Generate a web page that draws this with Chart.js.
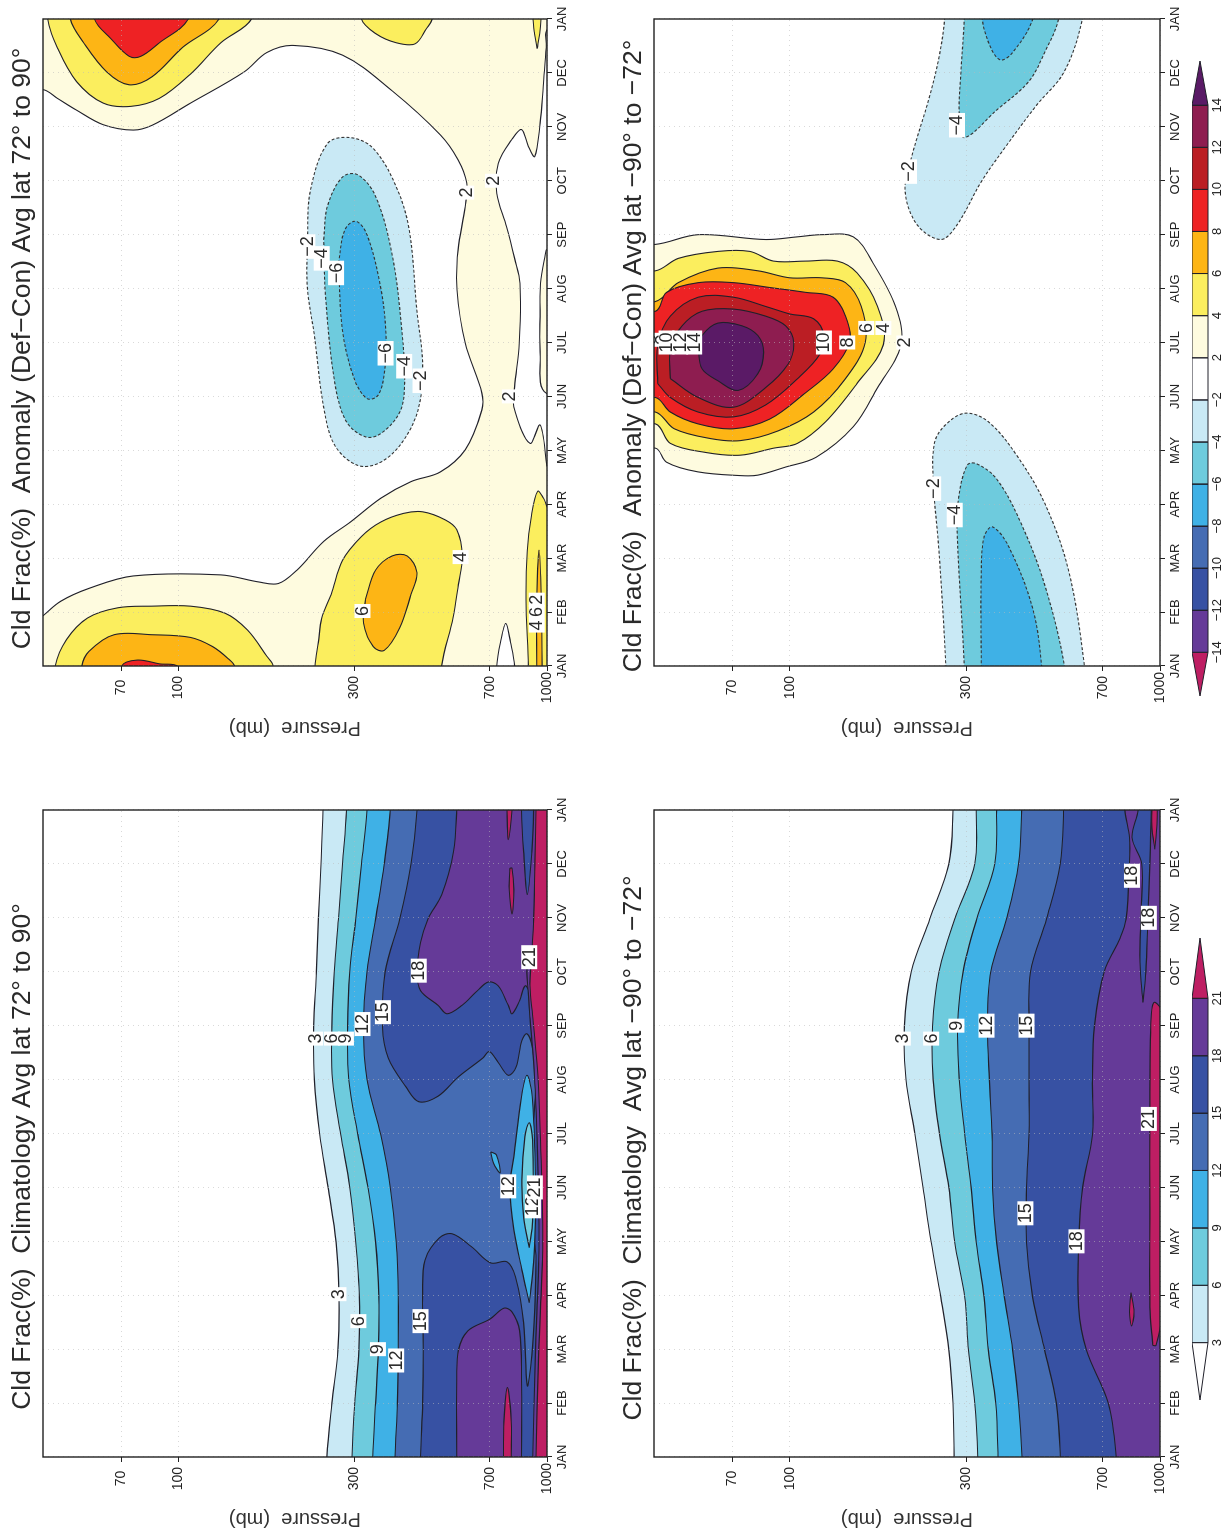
<!DOCTYPE html>
<html><head><meta charset="utf-8"><style>
html,body{margin:0;padding:0;background:#fff;overflow:hidden;width:1223px;height:1532px}
#page{position:absolute;left:0;top:0;width:1532px;height:1223px;transform-origin:0 0;transform:translateY(1532px) rotate(-90deg)}
canvas{position:absolute}
</style></head><body><div id="page"></div>
<script src="https://cdn.jsdelivr.net/npm/chart.js@4"></script>
<script>
const monthLabels=['JAN','FEB','MAR','APR','MAY','JUN','JUL','AUG','SEP','OCT','NOV','DEC','JAN'];
const pressureTicks=[70,100,300,700,1000];
const climLevels=[3,6,9,12,15,18,21];
const anomLevels=[-14,-12,-10,-8,-6,-4,-2,2,4,6,8,10,12,14];
const C={lb:'#c9e9f5',teal:'#6ecbdd',sky:'#3fb1e6',med:'#456cb3',dark:'#3751a3',pur:'#653a98',crim:'#be1e63',
 white:'#ffffff',cream:'#fefbdf',yel:'#fbee5e',org:'#fdb515',red:'#ee2224',dred:'#bb1e24',mar:'#8e1d50',dpur:'#5a1a66'};
const climColors=[C.white,C.lb,C.teal,C.sky,C.med,C.dark,C.pur,C.crim];
const anomColors=[C.crim,C.pur,C.dark,C.med,C.sky,C.teal,C.lb,C.white,C.cream,C.yel,C.org,C.red,C.dred,C.mar,C.dpur];

/* Climatology 72..90 */
const stopsC=[0,1,1.98,2.96,3.98,5,5.98,7,7.98,9,9.98,11,12];
const c3=[253,261,271,273,268,255,242,234,233,237,240,244,247];
const c6=[296,301,309,310,303,292,276,262,261,265,272,279,286];
const c9=[337,343,349,350,343,327,307,290,288,292,303,314,325];
const c12=[387,393,395,395,390,376,354,325,318,325,343,362,376];
const c15Right=[[12.6,444],[12,444],[11,428],[9.98,399],[9,364],[7.98,358],[7.4,371],[6.87,414],[6.59,449],[6.69,506],[7.05,575],[7.4,670],[7.52,698],[7.32,737],[7.08,785],[7.23,824],[7.73,855],[7.85,882],[7.61,912],[7,932],[4.56,938],[4.56,1500],[12.6,1500]];
const c15Left=[[-0.6,454],[0,454],[1,460],[1.98,462],[2.99,460],[3.65,467],[4.06,510],[4.14,553],[3.9,624],[3.6,704],[3.62,779],[3.34,821],[2.49,864],[1.32,884],[1.89,910],[2.78,927],[3.67,934],[4.56,938],[4.56,1500],[-0.6,1500]];
const c18Right=[[12.6,569],[12,569],[11.23,558],[10.43,518],[9.98,476],[9.54,454],[9,444],[8.65,454],[8.38,506],[8.22,536],[8.38,589],[8.65,648],[8.81,693],[8.74,737],[8.38,785],[8.22,804],[8.47,843],[8.74,873],[8.6,912],[8.6,1500],[12.6,1500]];
const c18Left=[[-0.6,569],[0,569],[1.45,569],[1.98,575],[2.34,610],[2.56,701],[2.76,764],[2.69,804],[2.34,843],[1.45,853],[0,853],[-0.6,853]];
const c15LensTop=[[12.6,853],[12,853],[11.23,864],[10.43,884],[11.23,910],[12,920],[12.6,920]];
const c21LensA=[[12.6,779],[12,779],[11.45,785],[12,804],[12.6,804]];
const c21LensB=[[10.92,793],[10.52,790],[10.07,804],[10.52,813],[10.92,804]];
const c21LensC=[[-0.6,762],[0,762],[0.65,764],[1.29,781],[0.65,800],[0,800],[-0.6,800]];
const c12Lens=[[2.86,895],[3.47,855],[4.21,813],[5.01,793],[5.57,813],[6.68,853],[7.08,882],[6.68,912],[4.83,932],[3.61,920]];
const c9Lens=[[3.88,895],[4.45,864],[5.14,855],[5.94,871],[6.2,895],[5.88,914],[4.38,914]];
const c12Blob=[[5.66,704],[5.6,730],[5.27,746],[5.45,716]];
const c18Bottom=[[0,915],[1.89,930],[3.67,950],[4.56,950],[5.9,940],[7.05,925],[8.12,900],[8.6,890]];
const c21Bottom=[[0,934],[1.89,949],[3.67,972],[4.56,972],[5.9,960],[7.05,945],[8.12,916],[8.74,899],[9.2,906],[9.98,920],[11,927],[12,934]];
const cLabels=[['3',7.76,235],['6',7.76,261],['9',7.76,285],['12',8.03,316],['15',8.25,359],['18',9.02,449],['21',9.27,895],['3',3.02,272],['6',2.52,308],['9',2,348],['12',1.79,390],['15',2.52,454],['12',5.02,785],['12',4.65,916],['21',5,927]];

/* Climatology -90..-72 */
const d3=[278,276,269,256,241,229,218,206,204,213,239,269,276];
const d6=[322,316,304,297,279,269,254,244,243,253,279,316,319];
const d9=[365,360,344,335,319,309,297,287,284,294,320,358,362];
const d12=[424,415,400,380,362,353,352,346,342,349,385,415,423];
const d15=[538,525,488,453,436,436,443,443,443,447,494,538,549];
const d18=[[0,762],[1,725],[1.98,633],[2.78,603],[3.98,603],[5,618],[5.98,657],[7,657],[7.98,665],[9,707],[9.63,781],[9.98,810],[11,827],[11.49,827],[12,804]];
const dLens15=[[8.43,899],[9.18,883],[9.98,887],[11,893],[11.49,840],[12,873],[12.6,873],[12.6,947],[12,947],[11,939],[9.98,927],[9,916]];
const dLens21=[[2.07,956],[2.78,939],[4.56,939],[6.34,939],[7.98,944],[8.43,963],[8.2,1020],[5.45,1020],[2.78,1020],[2.07,975]];
const dBlob21=[[3.05,835],[2.69,827],[2.43,838],[2.69,851]];
const dTop21=[[11.27,968],[11.67,951],[12,951],[12.6,951],[12.6,983],[12,983],[11.67,980]];
const dLabels=[['3',7.76,202],['6',7.76,241],['9',8,282],['12',8,340],['15',8,436],['18',4,595],['15',4.52,433],['21',6.27,933],['18',10,933],['18',10.78,840]];

/* Anomaly 72..90 */
const aWhiteUpper=[[0.93,43],[1.2,48],[1.44,57.3],[1.67,75.5],[1.69,130.5],[1.56,165],[1.53,187],[1.78,210],[2.31,248],[2.67,293],[3.11,354],[3.42,428],[3.6,514],[4.01,600],[4.75,666],[5.06,666],[5.99,600],[6.98,570],[7.72,574],[8.52,600],[8.96,606],[9.39,574],[9.85,514],[10.67,380],[11.33,279],[11.51,205],[11.38,174],[11.02,151],[10.44,108],[10.03,85],[9.94,75.5],[10.04,62.6],[10.31,53],[10.53,47],[10.69,43],[10.69,30],[0.93,30]];
const aWhiteLower=[[3.7,1000],[4.47,958],[4.13,899],[4.81,813],[5.18,817],[5.99,841],[7.1,845],[7.56,817],[8.15,777],[8.77,731],[9.32,738],[9.76,802],[9.95,853],[9.64,890],[9.45,927],[10.07,958],[10.75,977],[11.47,995],[11.82,1010],[11.82,1500],[3.7,1500]];
const aCreamLens=[[7.72,995],[7.1,960],[6.58,958],[5.83,958],[5.06,995],[5.06,1500],[7.72,1500]];
const aWhiteLens=[[-0.6,731],[0,731],[0.44,748],[0.79,773],[0.44,796],[0,817],[-0.6,817]];
const aYelBottom=[[-0.6,890],[0,890],[1.24,877],[2.13,884],[2.76,906],[3.24,943],[3.11,979],[2.9,1020],[2.9,1500],[-0.6,1500]];
const aOrgBottom=[[-0.6,938],[0,938],[1.24,938],[2.15,951],[1.24,965],[0,970],[-0.6,970]];
const aYelCorner=[[11.45,940],[11.73,925],[12,916],[12.6,916],[12.6,963],[12,963],[11.73,956]];
const aYelMid=[[-0.6,235],[0,235],[0.44,240],[0.89,245],[1.33,260],[1.96,279],[2.4,314],[2.67,354],[2.83,408],[2.86,460],[2.71,530],[2.53,569],[2.04,589],[1.51,575],[0.89,556],[0,518],[-0.6,518]];
const aOrgMid=[[1.24,322],[1.78,343],[2.04,380],[2.04,418],[1.73,444],[1.33,428],[0.71,399],[0.29,362],[0.36,338],[0.8,318]];
const aYelArch=[[-0.6,46.4],[0,46.4],[0.49,49.8],[0.89,56.8],[1.08,68.6],[1.11,85],[1.11,108],[0.98,134],[0.67,154],[0.18,174],[0,181],[-0.6,181]];
const aOrgArch=[[-0.6,54.8],[0,54.8],[0.27,57.3],[0.58,67],[0.58,85],[0.53,108],[0.36,124],[0.13,137],[0,142],[-0.6,142]];
const aRedArch=[[-0.6,70],[0,70.3],[0.11,77.5],[0.04,89],[-0.02,100],[-0.6,100]];
const aYelEnd=[[12.6,44.3],[12,44.3],[11.47,47],[10.84,53],[10.44,62.6],[10.38,74.5],[10.53,89],[10.98,108],[11.56,130.5],[12,158],[12.6,158]];
const aOrgEnd=[[12.6,51],[12,51],[11.56,55.4],[11.02,64],[10.78,73.6],[10.93,85],[11.47,102.7],[12,129],[12.6,129]];
const aRedEnd=[[12.6,59.3],[12,59.3],[11.64,65.6],[11.31,73.6],[11.31,79.3],[11.56,89],[12,106.5],[12.6,106.5]];
const aYelLow=[[12.6,314],[12,314],[11.73,343],[11.56,390],[11.54,439],[11.82,471],[12,488],[12.6,488]];
const aNeg2=[[7.91,224],[8.8,228],[9.69,254],[9.8,293],[9.6,338],[8.89,390],[8.09,423],[6.58,444],[5.6,460],[4.8,449],[4.18,408],[3.78,354],[3.72,307],[4.09,266],[4.8,248],[6.13,234],[7.02,224]];
const aNeg4=[[7.91,248],[8.53,254],[9.07,279],[9.11,307],[8.71,343],[7.64,380],[6.31,403],[5.24,411],[4.71,399],[4.31,354],[4.25,322],[4.53,286],[5.24,266],[6.84,251]];
const aNeg6=[[7.47,272],[8.09,283],[8.25,303],[8,325],[7.02,354],[6.13,366],[5.42,362],[5.02,348],[4.96,325],[5.33,300],[6.22,279]];
const aLabels=[['\u22122',7.78,224],['\u22124',7.56,245],['\u22126',7.29,268],['\u22126',5.8,365],['\u22124',5.56,410],['\u22122',5.29,454],['2',8.78,604],['2',9,714],['2',5,793],['4',2.02,583],['6',1.02,316],['2',1.23,938],['6',1,938],['4',0.75,938]];

/* Anomaly -90..-72 */
const b2=[[7.82,30],[4.04,30],[4.04,43.4],[3.78,46.5],[3.6,56.6],[3.53,74.3],[3.54,82],[3.69,97.5],[3.87,117.7],[4.44,148.5],[5.16,172.6],[5.96,200],[6.67,193],[7.47,168],[7.96,148.5],[8,122],[7.96,105],[7.91,86],[8,56.6],[7.82,43.4]];
const b4=[[7.33,30],[4.49,30],[4.49,43.4],[4.13,47.6],[3.96,59.4],[3.91,73.5],[4.04,90.4],[4.13,105],[4.53,125],[5.24,152],[5.96,179],[6.67,172.6],[7.29,152],[7.51,134.5],[7.51,110.5],[7.51,90.4],[7.69,78],[7.69,64],[7.56,50],[7.33,43.4]];
const b6=[[6.76,30],[4.71,30],[4.71,43.4],[4.4,48.8],[4.22,60.9],[4.18,73.5],[4.36,93],[4.71,116],[5.33,141.5],[6,160],[6.67,156],[7.11,141.5],[7.2,122],[7.2,100],[7.33,82],[7.38,64],[7.11,50],[6.76,43.4]];
const b8=[[6.58,30],[4.98,30],[4.98,43.4],[4.71,47.6],[4.49,56.6],[4.4,70.5],[4.58,88.3],[5.07,110.5],[5.51,131],[6,145],[6.4,143],[6.84,131],[6.93,110.5],[7.02,88.3],[7.11,70.5],[7.11,56.6],[6.93,46.5],[6.58,43.4]];
const b10=[[5.24,44],[4.98,47.6],[4.71,56.6],[4.62,70.5],[4.84,86],[5.33,105],[5.78,120.6],[6.13,123.7],[6.44,116],[6.53,100],[6.67,86],[6.84,70.5],[6.84,56.6],[6.49,47.6],[5.96,44]];
const b12=[[5.33,47.6],[4.98,56.6],[4.8,70.5],[5.16,86],[5.6,99],[6,102.5],[6.31,97.5],[6.49,86],[6.62,70.5],[6.58,58],[6.31,51.2],[5.87,47.6]];
const b14=[[5.87,56.6],[5.51,58],[5.29,64],[5.11,72.5],[5.42,82],[5.82,85],[6.13,82],[6.31,74.3],[6.36,64],[6.13,58]];
const bNeg2L=[[-0.6,264],[0,264],[2.13,253],[3.47,244],[4.18,247],[4.53,269],[4.69,300],[4.53,344],[3.91,410],[3.02,488],[1.78,566],[0,625],[-0.6,625]];
const bNeg4L=[[-0.6,296],[0,296],[2.58,283],[3.2,287],[3.73,302],[3.75,320],[3.47,362],[2.67,420],[1.51,488],[0,552],[-0.6,552]];
const bNeg6L=[[-0.6,329],[0,329],[1.69,329],[2.4,335],[2.58,353],[2.22,390],[1.07,453],[0,479],[-0.6,479]];
const bNeg2R=[[12.6,262],[12,262],[11.29,253],[10.58,239],[9.42,213],[8.8,205],[8.18,221],[7.91,256],[8.18,283],[8.98,329],[9.6,380],[10.4,464],[11.02,551],[12,617],[12.6,617]];
const bNeg4R=[[12.6,296],[12,296],[11.02,290],[10.22,287],[9.8,296],[10.31,362],[10.84,442],[11.38,488],[12,532],[12.6,532]];
const bNeg6R=[[12.6,331],[12,331],[11.47,349],[11.24,371],[11.38,400],[12,453],[12.6,453]];
const bLabels=[['8',6.05,43.9],['10',6,46.5],['12',6,50.6],['14',6,55.2],['10',6,123.7],['8',6,143],['6',6.27,161],['4',6.27,179],['2',6,204],['\u22122',9.17,210],['\u22124',10.03,283],['\u22122',3.29,244],['\u22124',2.8,279]];
const cream=[[-1,30],[13,30],[13,1500],[-1,1500]];

const zip=(xs,ys)=>xs.map((x,i)=>[x,ys[i]]);
const below=l=>[[l[0][0]-0.6,l[0][1]],...l,[l[l.length-1][0]+0.6,l[l.length-1][1]],[13.5,1500],[-1.5,1500]];
const FONT='"Liberation Sans",Arial,sans-serif';
const INK='#20202a';
function ds(points,color,o={}){
  const pts=[...points,points[0]].map(([x,y])=>({x,y}));
  return {data:pts,showLine:true,fill:'shape',backgroundColor:color,borderColor:o.noLine?'rgba(0,0,0,0)':(o.dash?'#333':INK),capBezierPoints:false,
    borderWidth:o.noLine?0:(o.w||1.1),borderDash:o.dash?[3,2]:[],tension:o.t===undefined?0.35:o.t,pointRadius:0,pointHoverRadius:0};
}
const D={dash:true};
const layersC=[ds(below(zip(stopsC,c3)),C.lb),ds(below(zip(stopsC,c6)),C.teal),ds(below(zip(stopsC,c9)),C.sky),ds(below(zip(stopsC,c12)),C.med),
 ds(c15Left,C.dark),ds(c15Right,C.dark),ds(c18Left,C.pur),ds(c18Right,C.pur),ds(c15LensTop,C.dark),ds(c21LensA,C.crim),ds(c21LensB,C.crim),ds(c21LensC,C.crim),
 ds(c12Lens,C.sky),ds(c9Lens,C.teal),ds(c12Blob,C.sky),ds(below(c18Bottom),C.pur),ds(below(c21Bottom),C.crim)];
const layersD=[ds(below(zip(stopsC,d3)),C.lb),ds(below(zip(stopsC,d6)),C.teal),ds(below(zip(stopsC,d9)),C.sky),ds(below(zip(stopsC,d12)),C.med),ds(below(zip(stopsC,d15)),C.dark),
 ds(below(d18),C.pur),ds(dLens15,C.dark),ds(dLens21,C.crim),ds(dBlob21,C.crim),ds(dTop21,C.crim)];
const layersA=[ds(cream,C.cream,{noLine:true,t:0}),ds(aWhiteUpper,C.white),ds(aWhiteLower,C.white),ds(aCreamLens,C.cream),ds(aWhiteLens,C.white),
 ds(aYelBottom,C.yel),ds(aOrgBottom,C.org),ds(aYelCorner,C.yel),ds(aYelMid,C.yel),ds(aOrgMid,C.org),ds(aYelArch,C.yel),ds(aOrgArch,C.org),ds(aRedArch,C.red),
 ds(aYelEnd,C.yel),ds(aOrgEnd,C.org),ds(aRedEnd,C.red),ds(aYelLow,C.yel),ds(aNeg2,C.lb,D),ds(aNeg4,C.teal,D),ds(aNeg6,C.sky,D)];
const layersB=[ds(b2,C.cream),ds(b4,C.yel),ds(b6,C.org),ds(b8,C.red),ds(b10,C.dred),ds(b12,C.mar),ds(b14,C.dpur),
 ds(bNeg2L,C.lb,D),ds(bNeg4L,C.teal,D),ds(bNeg6L,C.sky,D),ds(bNeg2R,C.lb,D),ds(bNeg4R,C.teal,D),ds(bNeg6R,C.sky,D)];

const host=document.getElementById('page');
function mk(left,top,w,h){const c=document.createElement('canvas');c.width=w;c.height=h;c.style.left=left+'px';c.style.top=top+'px';host.appendChild(c);return c;}

function panel(title,plotL,plotT,plotW,plotH,titleShift,layers,labels){
  const L=90,T=45,B=28,R=25;
  const cv=mk(plotL-L,plotT-T,L+plotW+R,T+plotH+B);
  const overlay={id:'overlay',
   afterLayout(ch){ch.titleBlock.left+=titleShift;ch.titleBlock.right+=titleShift;},
   afterDraw(ch){
    const c=ch.ctx,a=ch.chartArea,x=ch.scales.x,y=ch.scales.y;
    c.save();
    c.beginPath();c.rect(a.left,a.top,a.width,a.height);c.clip();
    c.font='18px '+FONT;c.textAlign='center';c.textBaseline='middle';
    labels.forEach(([t,m,p])=>{
      const px=x.getPixelForValue(m),py=y.getPixelForValue(p),w=c.measureText(t).width+4;
      c.fillStyle='#fff';c.fillRect(px-w/2,py-8,w,16);
      c.fillStyle='#2a2a2a';c.fillText(t,px,py+0.5);
    });
    c.restore();
    c.save();c.strokeStyle='#222';c.lineWidth=1.4;c.strokeRect(a.left,a.top,a.width,a.height);c.restore();
  }};
  const grid={z:1,color:'rgba(185,185,185,0.55)',tickColor:'#222',tickLength:5,lineWidth:1};
  new Chart(cv,{type:'scatter',plugins:[overlay],
    data:{datasets:layers.map((d,i)=>({...d,order:-i}))},
    options:{responsive:false,animation:false,devicePixelRatio:1,
      layout:{autoPadding:false,padding:{left:0,right:R,top:0,bottom:0}},
      plugins:{legend:{display:false},tooltip:{enabled:false},
        title:{display:true,text:title,color:'#2a2a2a',font:{family:FONT,size:26.5,weight:'normal',lineHeight:1.2},padding:{top:9,bottom:4.2}}},
      scales:{
        x:{type:'linear',min:0,max:12,grid,border:{display:false,dash:[1,4]},
          afterBuildTicks:s=>{s.ticks=monthLabels.map((_,i)=>({value:i}));},
          afterFit:s=>{s.height=B;},
          ticks:{autoSkip:false,maxRotation:0,padding:3,color:'#222',font:{family:FONT,size:13},callback:v=>monthLabels[v]}},
        y:{type:'logarithmic',reverse:true,min:43,max:1000,grid,border:{display:false,dash:[1,4]},
          afterBuildTicks:s=>{s.ticks=pressureTicks.map(v=>({value:v}));},
          afterFit:s=>{s.width=L;},
          title:{display:true,text:'Pressure  (mb)',color:'#333',font:{family:FONT,size:20},padding:{top:16,bottom:0}},
          ticks:{autoSkip:false,padding:1,crossAlign:'center',color:'#222',font:{family:FONT,size:14},callback:v=>String(v)}}
      }}});
}
function colorbar(left,width,levels,colors,tipLow,tipHigh){
  const top=1192,h=31;
  const cv=mk(left,top,width,h);
  const n=levels.length;
  const sets=[];
  colors.forEach((col,i)=>{
    let p;
    if(i===0)p=[[0,0],[0,1],[-tipLow,0.5]];
    else if(i===colors.length-1)p=[[n-1,0],[n-1,1],[n-1+tipHigh,0.5]];
    else p=[[i-1,0],[i-1,1],[i,1],[i,0]];
    sets.push(ds(p,col,{t:0,w:1}));
  });
  new Chart(cv,{type:'scatter',data:{datasets:sets.map((d,i)=>({...d,clip:false,order:-i}))},
    options:{responsive:false,animation:false,devicePixelRatio:1,layout:{autoPadding:false,padding:0},
      plugins:{legend:{display:false},tooltip:{enabled:false}},
      scales:{
        x:{type:'linear',min:-tipLow,max:n-1+tipHigh,grid:{display:false,drawTicks:false},border:{display:false},
          afterBuildTicks:s=>{s.ticks=levels.map((_,i)=>({value:i}));},
          afterFit:s=>{s.height=15;},
          ticks:{autoSkip:false,maxRotation:0,padding:2,color:'#222',font:{family:FONT,size:13},callback:v=>{const t=levels[v];return t<0?'\u2212'+(-t):String(t);}}},
        y:{type:'linear',min:0,max:1,display:false}
      }}});
}
panel('Cld Frac(%)  Climatology Avg lat 72\u00b0 to 90\u00b0',75,43,647,504,22,layersC,cLabels);
panel('Cld Frac(%)  Anomaly (Def\u2212Con) Avg lat 72\u00b0 to 90\u00b0',866,43,647,504,39,layersA,aLabels);
panel('Cld Frac(%)  Climatology  Avg lat \u221290\u00b0 to \u221272\u00b0',75,654,647,506,30.5,layersD,dLabels);
panel('Cld Frac(%)  Anomaly (Def\u2212Con) Avg lat \u221290\u00b0 to \u221272\u00b0',866,654,647,506,31.5,layersB,bLabels);
colorbar(132,462,climLevels,climColors,1,1.05);
colorbar(836,635,anomLevels,anomColors,1.04,1.05);
</script></body></html>
